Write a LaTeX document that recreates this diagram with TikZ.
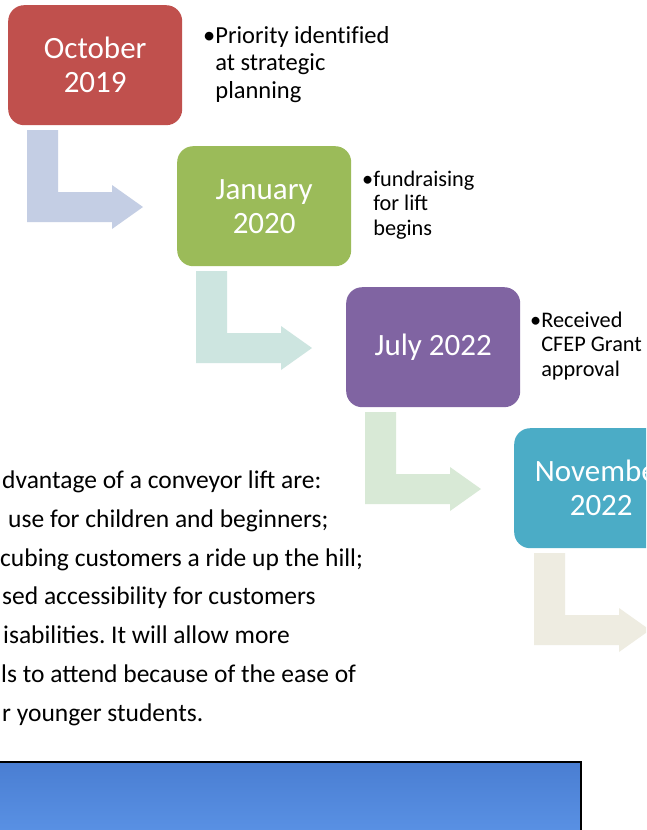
\documentclass[tikz,border=0pt]{standalone}
\usepackage{fontspec}
\setmainfont{Carlito}
\frenchspacing
\definecolor{boxred}{HTML}{C0504D}
\definecolor{boxgreen}{HTML}{9BBB59}
\definecolor{boxpurple}{HTML}{8064A2}
\definecolor{boxteal}{HTML}{4BACC6}
\definecolor{arrA}{HTML}{C4CEE4}
\definecolor{arrB}{HTML}{CDE5E0}
\definecolor{arrC}{HTML}{D8E9D6}
\definecolor{arrD}{HTML}{EEECE1}
\definecolor{skytop}{HTML}{4A7ED2}
\definecolor{skybot}{HTML}{5B93E6}
\tikzset{
  datebox/.style={fill=#1, rounded corners=16pt, minimum width=174pt, minimum height=120pt,
    anchor=north west, text=white, font=\fontsize{31}{34}\selectfont, align=center, inner sep=0pt},
  note/.style={anchor=west, inner sep=0pt, text=black},
  bigtext/.style={anchor=base west, inner sep=0pt, align=left, text=black,
    font=\fontsize{25.5}{38.7}\selectfont\frenchspacing},
}
\newcommand\bentarrow[3]{%
  \fill[#1, shift={(#2,#3)}] (27,130) -- (58,130) -- (58,192) -- (112,192) -- (112,185)
    -- (143,207) -- (112,229) -- (112,222) -- (27,222) -- cycle;}
\begin{document}
\begin{tikzpicture}[x=1pt,y=-1pt]
\useasboundingbox (0,0) rectangle (646,830);
\clip (0,0) rectangle (646,830);
\fill[white] (0,0) rectangle (646,830);

% bent arrows
\bentarrow{arrA}{0}{0}
\bentarrow{arrB}{169}{141}
\bentarrow{arrC}{338}{282}
\bentarrow{arrD}{507}{423}

% date boxes
\node[datebox=boxred]    (b1) at (8,5)     {October\\2019};
\node[datebox=boxgreen]  (b2) at (177,146) {January\\2020};
\node[datebox=boxpurple] (b3) at (346,287) {July 2022};
\node[datebox=boxteal]   (b4) at (514,428) {November\\2022};

% notes
\node[note, font=\fontsize{24.5}{27.5}\selectfont\addfontfeatures{Ligatures=NoCommon}] (n1) at (203,65)
  {\begin{tabular}{@{}l@{}l@{}}•&Priority identified\\&at strategic\\&planning\end{tabular}};
\node[note, font=\fontsize{22.3}{24.5}\selectfont] (n2) at (362,206)
  {\begin{tabular}{@{}l@{}l@{}}•&fundraising\\&for lift\\&begins\end{tabular}};
\node[note, font=\fontsize{22.3}{24.5}\selectfont] (n3) at (530,347)
  {\begin{tabular}{@{}l@{}l@{}}•&Received\\&CFEP Grant\\&approval\end{tabular}};

% paragraph (anchor = baseline of last line)
\node[bigtext] (para) at (2,721) {dvantage of a conveyor lift are:\\
\hspace*{6pt}use for children and beginners;\\
\hspace*{-2pt}cubing customers a ride up the hill;\\
sed accessibility for customers\\
\hspace*{1pt}isabilities. It will allow more\\
\hspace*{-1pt}ls to attend because of the ease of\\
r younger students.};

% sky picture
\shade[top color=skytop, bottom color=skybot] (-5,762) rectangle (581,840);
\draw[line width=2.5pt, black] (-5,762) rectangle (581,840);
\end{tikzpicture}
\end{document}
